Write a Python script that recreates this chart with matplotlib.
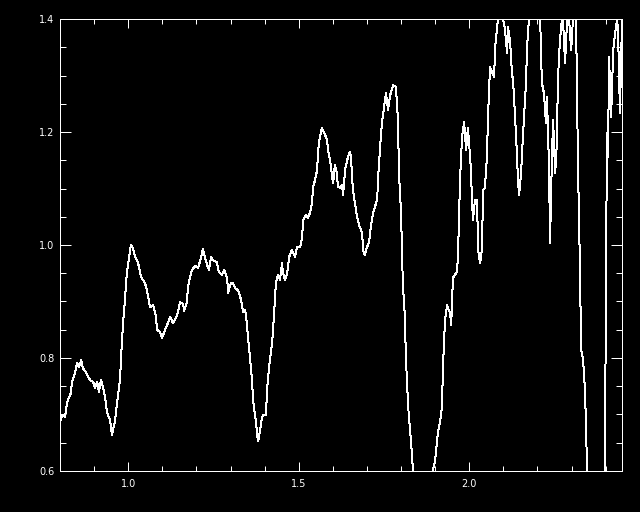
import numpy as np
import matplotlib
matplotlib.use("Agg")
import matplotlib.pyplot as plt
from matplotlib.ticker import MultipleLocator, FormatStrFormatter

# wavelength (micron) and normalised flux
wave = [0.802, 0.806, 0.815, 0.821, 0.832, 0.835, 0.844, 0.850, 0.856, 0.862,
        0.867, 0.876, 0.888, 0.897, 0.903, 0.909, 0.914, 0.920, 0.926, 0.932,
        0.938, 0.947, 0.952, 0.961, 0.967, 0.976, 0.979, 0.985, 0.991, 0.996,
        1.005, 1.008, 1.014, 1.020, 1.029, 1.038, 1.049, 1.055, 1.064, 1.073,
        1.082, 1.084, 1.093, 1.099, 1.108, 1.114, 1.123, 1.131, 1.140, 1.146,
        1.152, 1.161, 1.164, 1.172, 1.175, 1.181, 1.187, 1.196, 1.205, 1.213,
        1.219, 1.225, 1.231, 1.237, 1.243, 1.249, 1.260, 1.266, 1.275, 1.281,
        1.290, 1.293, 1.301, 1.307, 1.313, 1.322, 1.331, 1.337, 1.343, 1.348,
        1.351, 1.357, 1.363, 1.366, 1.375, 1.378, 1.381, 1.387, 1.392, 1.395,
        1.404, 1.407, 1.413, 1.422, 1.428, 1.433, 1.439, 1.445, 1.451, 1.454,
        1.460, 1.466, 1.472, 1.480, 1.489, 1.495, 1.504, 1.510, 1.513, 1.521,
        1.527, 1.533, 1.539, 1.542, 1.548, 1.554, 1.557, 1.562, 1.568, 1.574,
        1.583, 1.586, 1.592, 1.598, 1.601, 1.606, 1.612, 1.615, 1.621, 1.627,
        1.630, 1.636, 1.642, 1.645, 1.650, 1.653, 1.659, 1.665, 1.671, 1.677,
        1.686, 1.689, 1.694, 1.700, 1.706, 1.712, 1.718, 1.730, 1.733, 1.738,
        1.744, 1.747, 1.756, 1.762, 1.768, 1.777, 1.785, 1.791, 1.794, 1.800,
        1.806, 1.809, 1.815, 1.821, 1.829, 1.835, 1.850, 1.879, 1.894, 1.900,
        1.908, 1.914, 1.920, 1.923, 1.929, 1.935, 1.938, 1.944, 1.947, 1.950,
        1.952, 1.964, 1.967, 1.973, 1.979, 1.985, 1.991, 1.996, 1.999, 2.005,
        2.008, 2.011, 2.017, 2.023, 2.026, 2.032, 2.038, 2.040, 2.046, 2.052,
        2.055, 2.061, 2.067, 2.073, 2.076, 2.082, 2.084, 2.090, 2.099, 2.105,
        2.111, 2.114, 2.120, 2.126, 2.128, 2.137, 2.143, 2.146, 2.152, 2.158,
        2.167, 2.169, 2.175, 2.190, 2.208, 2.213, 2.219, 2.225, 2.228, 2.234,
        2.237, 2.243, 2.246, 2.252, 2.257, 2.260, 2.266, 2.272, 2.275, 2.281,
        2.287, 2.293, 2.299, 2.304, 2.313, 2.319, 2.325, 2.328, 2.331, 2.337,
        2.343, 2.345, 2.372, 2.398, 2.401, 2.404, 2.407, 2.410, 2.416, 2.419,
        2.422, 2.428, 2.433, 2.436, 2.442, 2.448]

flux = [0.690, 0.699, 0.696, 0.722, 0.738, 0.758, 0.773, 0.791, 0.784, 0.796,
        0.782, 0.775, 0.761, 0.758, 0.747, 0.758, 0.740, 0.761, 0.749, 0.731,
        0.703, 0.690, 0.664, 0.687, 0.720, 0.761, 0.802, 0.862, 0.908, 0.950,
        0.988, 1.000, 0.995, 0.979, 0.968, 0.943, 0.933, 0.920, 0.890, 0.894,
        0.873, 0.850, 0.846, 0.835, 0.850, 0.858, 0.873, 0.862, 0.871, 0.881,
        0.899, 0.896, 0.883, 0.899, 0.924, 0.943, 0.956, 0.963, 0.959, 0.977,
        0.993, 0.979, 0.965, 0.956, 0.979, 0.973, 0.970, 0.952, 0.947, 0.956,
        0.942, 0.915, 0.933, 0.933, 0.924, 0.920, 0.903, 0.881, 0.885, 0.862,
        0.837, 0.802, 0.761, 0.726, 0.685, 0.664, 0.653, 0.673, 0.694, 0.699,
        0.699, 0.743, 0.784, 0.827, 0.880, 0.933, 0.947, 0.938, 0.968, 0.950,
        0.938, 0.950, 0.979, 0.991, 0.979, 0.996, 0.996, 1.014, 1.044, 1.053,
        1.048, 1.057, 1.074, 1.103, 1.115, 1.133, 1.168, 1.191, 1.207, 1.200,
        1.186, 1.168, 1.150, 1.120, 1.110, 1.142, 1.127, 1.103, 1.101, 1.106,
        1.088, 1.133, 1.150, 1.156, 1.165, 1.156, 1.097, 1.074, 1.050, 1.035,
        1.021, 0.991, 0.982, 0.996, 1.004, 1.035, 1.057, 1.080, 1.120, 1.168,
        1.216, 1.230, 1.269, 1.239, 1.265, 1.283, 1.280, 1.221, 1.127, 1.057,
        0.915, 0.908, 0.791, 0.713, 0.655, 0.602, 0.550, 0.550, 0.602, 0.619,
        0.667, 0.685, 0.713, 0.784, 0.867, 0.894, 0.888, 0.880, 0.858, 0.903,
        0.942, 0.952, 0.979, 1.115, 1.191, 1.218, 1.168, 1.207, 1.186, 1.133,
        1.080, 1.044, 1.080, 1.080, 0.991, 0.968, 0.996, 1.097, 1.101, 1.156,
        1.227, 1.315, 1.306, 1.297, 1.350, 1.386, 1.400, 1.430, 1.400, 1.381,
        1.340, 1.386, 1.358, 1.297, 1.297, 1.198, 1.115, 1.088, 1.127, 1.198,
        1.292, 1.345, 1.400, 1.440, 1.400, 1.287, 1.269, 1.216, 1.262, 1.138,
        1.004, 1.168, 1.221, 1.127, 1.181, 1.292, 1.363, 1.400, 1.398, 1.322,
        1.398, 1.398, 1.345, 1.398, 1.410, 1.138, 0.950, 0.814, 0.809, 0.773,
        0.678, 0.600, 0.500, 0.600, 0.950, 1.198, 1.156, 1.333, 1.227, 1.280,
        1.345, 1.375, 1.398, 1.386, 1.234, 1.398]

fig = plt.figure(figsize=(6.4, 5.12), dpi=100, facecolor="black")
ax = fig.add_axes([60 / 640, 41 / 512, 562 / 640, 452 / 512], facecolor="black")

ax.plot(wave, flux, color="white", lw=0.72, antialiased=False)

ax.set_xlim(0.8, 2.448)
ax.set_ylim(0.6, 1.4)

ax.xaxis.set_major_locator(MultipleLocator(0.5))
ax.xaxis.set_minor_locator(MultipleLocator(0.1))
ax.yaxis.set_major_locator(MultipleLocator(0.2))
ax.yaxis.set_minor_locator(MultipleLocator(0.05))
ax.xaxis.set_major_formatter(FormatStrFormatter("%.1f"))
ax.yaxis.set_major_formatter(FormatStrFormatter("%.1f"))

for spine in ax.spines.values():
    spine.set_color("white")
    spine.set_linewidth(0.72)

ax.tick_params(axis="both", which="both", direction="in", colors="white",
               top=True, right=True, width=0.72, labelsize=7)
ax.tick_params(axis="x", which="major", length=6.5, pad=6)
ax.tick_params(axis="x", which="minor", length=3.6)
ax.tick_params(axis="y", which="major", length=8, pad=4)
ax.tick_params(axis="y", which="minor", length=4.3)

fig.savefig("out.png", dpi=100, facecolor="black")
